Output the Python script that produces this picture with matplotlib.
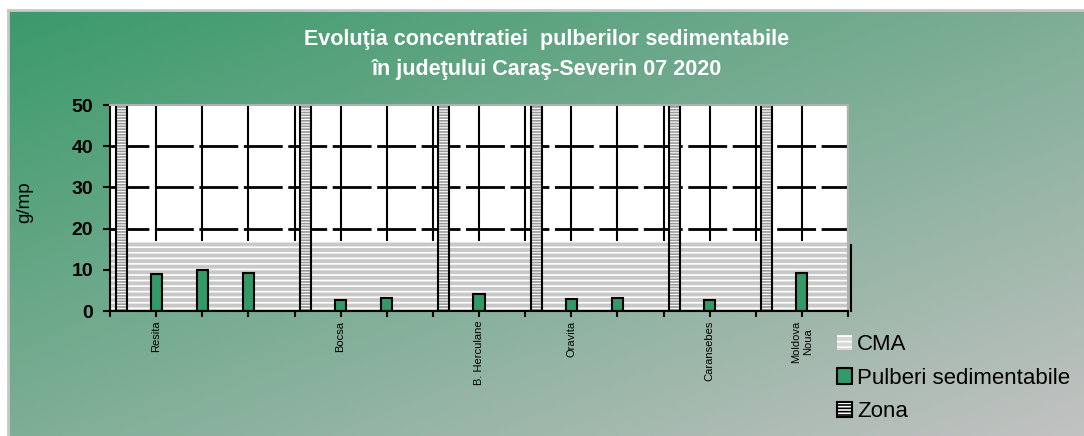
"""Evolutia concentratiei pulberilor sedimentabile, Caras-Severin 07 2020."""

import numpy as np
from matplotlib import pyplot as plt
from matplotlib.patches import Patch

sites = ["Resita", "Bocsa", "B. Herculane", "Oravita", "Caransebes", "Moldova\nNoua"]
site_pos = [1, 5, 8, 10, 13, 15]

pulberi_pos = [1, 2, 3, 5, 6, 8, 10, 11, 13, 15]
pulberi = [9.0, 9.9, 9.3, 2.6, 3.1, 4.1, 2.8, 3.2, 2.6, 9.3]

zona_pos = [0, 4, 7, 9, 12, 14]
zona = [50, 50, 50, 50, 50, 50]

cma = 17
n_cat = 16

green = "#339966"

plt.rcParams["font.family"] = ["Liberation Sans", "DejaVu Sans"]
plt.rcParams["hatch.linewidth"] = 1.2

fig = plt.figure(figsize=(10.84, 4.36), dpi=100, facecolor="white")

# gradient background
W, H = 1084, 436
bg = fig.add_axes([8 / W, 0, 1 - 8 / W, (H - 11) / H], zorder=-2)
u = np.linspace(0, 1, 300)[None, :]
v = np.linspace(0, 1, 120)[:, None]
t = np.clip((u + v) / 2, 0, 1)[..., None]
c0 = np.array([58, 154, 106]) / 255
c1 = np.array([194, 194, 194]) / 255
bg.imshow(c0 * (1 - t) + c1 * t, aspect="auto", extent=(0, 1, 0, 1))
bg.set_axis_off()
fig.add_artist(plt.Line2D([7.5 / W, 7.5 / W], [0, (H - 10) / H], color="#c8c8c8", lw=2))
fig.add_artist(plt.Line2D([7.5 / W, 1], [(H - 10.5) / H] * 2, color="#c8c8c8", lw=2))

ax = fig.add_axes([110 / W, (H - 311) / H, 738 / W, 206 / H])
ax.set_facecolor("white")
ax.set_xlim(0, n_cat)
ax.set_ylim(0, 50)

# grid
for y in [20, 30, 40]:
    ax.axhline(y, color="black", lw=2, ls=(0, (14, 2)), zorder=0.5)
for x in range(1, n_cat + 1):
    ax.axvline(x, color="black", lw=1.5, zorder=0.5)

# CMA band
ax.axhspan(0, cma, facecolor="#c8c8c8", edgecolor="white", hatch="---", lw=0, zorder=1)
ax.plot([n_cat + 0.07, n_cat + 0.07], [0, cma - 1], color="black", lw=1.5, clip_on=False, zorder=3)

# zona bars
zx = np.array(zona_pos) + 0.24
ax.bar(zx, zona, width=0.24, facecolor="white", edgecolor="#999999", hatch="------", lw=0, zorder=2)
ax.bar(zx, zona, width=0.24, facecolor="none", edgecolor="black", lw=1.5, zorder=2.1)

# pulberi bars
ax.bar(pulberi_pos, pulberi, width=0.24, color=green, edgecolor="black", lw=1.5, zorder=2.2)

for side in ["top", "right"]:
    ax.spines[side].set_color("#b0b0b0")
    ax.spines[side].set_linewidth(1.5)
for side in ["left", "bottom"]:
    ax.spines[side].set_linewidth(1.5)

ax.set_yticks(range(0, 51, 10))
ax.tick_params(axis="y", length=5, width=1.5, labelsize=14, pad=7)
for lab in ax.get_yticklabels():
    lab.set_fontweight("bold")

labels = [""] * (n_cat + 1)
for p, s in zip(site_pos, sites):
    labels[p] = s
ax.set_xticks(range(n_cat + 1))
ax.set_xticklabels(labels, rotation=90, fontsize=8, va="top")
ax.tick_params(axis="x", length=4, width=1.5, pad=3)

fig.text(25 / W, 1 - 202 / H, "g/mp", rotation=90, fontsize=13.5, ha="center", va="center")

fig.text(547 / W, 1 - 40 / H, "Evoluţia concentratiei  pulberilor sedimentabile",
         color="white", fontsize=15.5, fontweight="bold", ha="center", va="center")
fig.text(547 / W, 1 - 69 / H, "în judeţului Caraş-Severin 07 2020",
         color="white", fontsize=15.5, fontweight="bold", ha="center", va="center")

handles = [
    Patch(facecolor="#d8d8d8", edgecolor="white", hatch="---", lw=0),
    Patch(facecolor=green, edgecolor="black", lw=1.5),
    Patch(facecolor="white", edgecolor="black", hatch="-----", lw=1.5),
]
fig.legend(handles, ["CMA", "Pulberi sedimentabile", "Zona"], loc="upper left",
           bbox_to_anchor=(817 / W, 1 - 314 / H), frameon=False, fontsize=16,
           handlelength=0.68, handleheight=0.68, handletextpad=0.22, labelspacing=0.57)

fig.savefig("out.png", dpi=100)
